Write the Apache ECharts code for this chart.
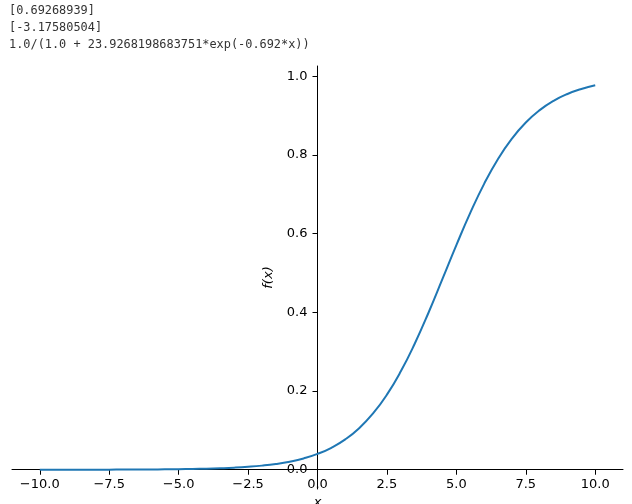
<!DOCTYPE html>
<html>
<head>
<meta charset="utf-8">
<script src="https://cdn.jsdelivr.net/npm/echarts@6/dist/echarts.min.js"></script>
<style>
html,body{margin:0;padding:0;background:#fff;}
#chart{width:632px;height:504px;}
</style>
</head>
<body>
<div id="chart"></div>
<script>
const xValues = [-10,-9.5,-9,-8.5,-8,-7.5,-7,-6.5,-6,-5.5,-5,-4.5,-4,-3.5,-3,-2.5,-2,-1.5,-1,-0.5,0,0.5,1,1.5,2,2.5,3,3.5,4,4.5,5,5.5,6,6.5,7,7.5,8,8.5,9,9.5,10];
const yValues = [0.00004,0.00006,0.00008,0.00012,0.00017,0.00023,0.00033,0.00047,0.00066,0.00093,0.0013,0.0019,0.0026,0.0037,0.0052,0.0074,0.0104,0.0146,0.0205,0.0287,0.0401,0.0558,0.0770,0.1055,0.1430,0.1908,0.2500,0.3202,0.3996,0.4848,0.5708,0.6527,0.7265,0.7897,0.8414,0.8824,0.9138,0.9374,0.9549,0.9677,0.9769];
const xTicks = [-10,-7.5,-5,-2.5,0,2.5,5,7.5,10];
const yTicks = [0,0.2,0.4,0.6,0.8,1.0];
const headerLines = ['[0.69268939]','[-3.17580504]','1.0/(1.0 + 23.9268198683751*exp(-0.692*x))'];

const chart = echarts.init(document.getElementById('chart'), null, {renderer:'canvas'});
const fmt = v => (v < 0 ? '\u2212' : '') + Math.abs(v).toFixed(1);
const labelFont = {fontFamily:'DejaVu Sans', fontSize:13, color:'#000'};
const data = xValues.map((x,i)=>[x,yValues[i]]);
const G = {left:12, right:9, top:66, bottom:15};

chart.setOption({
  animation:false,
  backgroundColor:'#fff',
  grid:{left:G.left, right:G.right, top:G.top, bottom:G.bottom, containLabel:false, outerBoundsMode:'none'},
  graphic: headerLines.map((t,i)=>({
    type:'text', left:9, top:5 + i*17,
    style:{text:t, fontFamily:'DejaVu Sans Mono', fontSize:11.9, fill:'#333'}
  })),
  xAxis:{
    type:'value', min:-11, max:11, position:'bottom',
    axisLine:{onZero:false, lineStyle:{color:'#000', width:1}},
    axisTick:{show:true, inside:false, length:5, customValues:xTicks, lineStyle:{color:'#000'}},
    axisLabel:Object.assign({customValues:xTicks, margin:8, formatter:fmt}, labelFont),
    splitLine:{show:false},
    name:'x', nameLocation:'middle', nameGap:26,
    nameTextStyle:{fontFamily:'DejaVu Sans', fontSize:13, fontStyle:'italic', color:'#000'}
  },
  yAxis:{
    type:'value', min:-0.049, max:1.026, position:'left',
    axisLine:{show:true, onZero:false, lineStyle:{color:'#000', width:1}},
    axisTick:{show:true, inside:false, length:5, customValues:yTicks, lineStyle:{color:'#000'}},
    axisLabel:Object.assign({customValues:yTicks, margin:10, formatter:fmt}, labelFont),
    splitLine:{show:false},
    name:'f(x)', nameLocation:'middle', nameGap:42, nameRotate:90,
    nameTextStyle:{fontFamily:'DejaVu Sans', fontSize:13, fontStyle:'italic', color:'#000'}
  },
  series:[{
    type:'line', data:data, smooth:true, showSymbol:false,
    lineStyle:{color:'#1f77b4', width:2}, itemStyle:{color:'#1f77b4'}
  }]
});

// Place each axis through the other's zero, like centered spines
const zeroX = chart.convertToPixel({xAxisIndex:0}, 0);
const zeroY = chart.convertToPixel({yAxisIndex:0}, 0);
chart.setOption({
  yAxis:{offset: G.left - zeroX},
  xAxis:{offset: zeroY - (504 - G.bottom)}
});
</script>
</body>
</html>
